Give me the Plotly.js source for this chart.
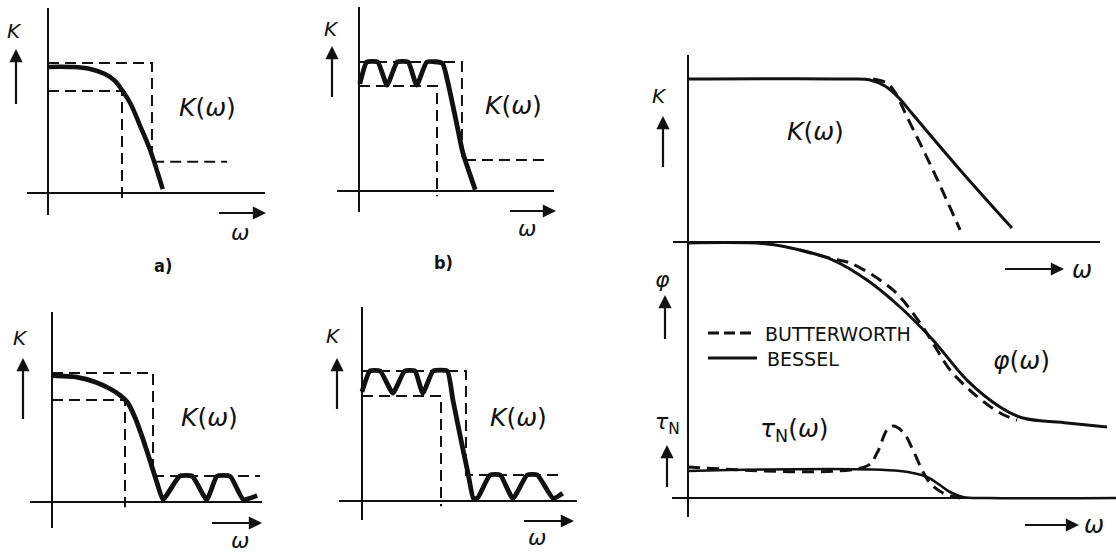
<!DOCTYPE html>
<html><head><meta charset="utf-8">
<script src="https://cdn.plot.ly/plotly-3.0.1.min.js"></script>
<style>html,body{margin:0;padding:0;background:#fff}#chart{width:1116px;height:552px}</style>
</head><body><div id="chart"></div>
<script>
// ---------- data (normalised units: omega_c = 1, upper tolerance K = 1) ----------
// a) smooth (Butterworth-like) low-pass
const aW = [0, 0.30, 0.57, 0.77, 0.905, 1.0, 1.11, 1.24, 1.38, 1.47, 1.55];
const aK = [0.97, 0.97, 0.954, 0.915, 0.862, 0.792, 0.692, 0.523, 0.331, 0.177, 0.03];
const aUpperW = [0, 1.405, 1.405, 2.42];
const aUpperK = [1, 1, 0.24, 0.24];
const aLowerW = [0, 1, 1];
const aLowerK = [0.785, 0.785, -0.04];

// b) passband ripple
const bW = [0.01, 0.10, 0.24, 0.36, 0.49, 0.63, 0.74, 0.87, 1.07, 1.14, 1.26, 1.33, 1.49];
const bK = [0.83, 1.0, 1.0, 0.82, 1.0, 1.0, 0.82, 1.0, 0.99, 0.84, 0.50, 0.30, 0.01];
const bUpperW = [0, 1.32, 1.32, 2.41];
const bUpperK = [1, 1, 0.24, 0.24];
const bLowerW = [0, 1, 1];
const bLowerK = [0.814, 0.814, -0.04];

// c) stopband ripple
const cW = [0, 0.32, 0.59, 0.80, 0.93, 1.03, 1.14, 1.25, 1.34, 1.44, 1.52, 1.75, 1.92, 2.12, 2.26, 2.44, 2.62, 2.81];
const cK = [0.98, 0.97, 0.93, 0.876, 0.829, 0.775, 0.651, 0.481, 0.326, 0.147, 0.02, 0.20, 0.20, 0.02, 0.20, 0.20, 0.02, 0.05];
const cUpperW = [0, 1.384, 1.384, 2.85];
const cUpperK = [1, 1, 0.202, 0.202];
const cLowerW = [0, 1, 1];
const cLowerK = [0.791, 0.791, -0.04];

// d) passband and stopband ripple
const dW = [0, 0.10, 0.23, 0.39, 0.54, 0.67, 0.77, 0.90, 1.08, 1.15, 1.27, 1.34, 1.41, 1.46, 1.62, 1.75, 1.91, 2.09, 2.22, 2.42, 2.54];
const dK = [0.84, 1.0, 1.0, 0.83, 1.0, 1.0, 0.83, 1.0, 1.0, 0.78, 0.42, 0.22, 0.02, 0.02, 0.2, 0.2, 0.02, 0.2, 0.2, 0.02, 0.06];
const dUpperW = [0, 1.316, 1.316, 2.544];
const dUpperK = [1, 1, 0.2, 0.2];
const dLowerW = [0, 1, 1];
const dLowerK = [0.808, 0.808, -0.04];

// right: Butterworth vs Bessel
const besselKW = [0, 0.853, 0.958, 1.037, 1.116, 1.168, 1.432, 1.705];
const besselK  = [1.0, 1.0, 0.994, 0.957, 0.877, 0.804, 0.442, 0.086];
const butterKW = [0.974, 1.047, 1.089, 1.153, 1.289, 1.432];
const butterK  = [1.0, 0.975, 0.920, 0.767, 0.442, 0.074];

const besselPhiW = [0, 0.416, 0.589, 0.763, 0.942, 1.116, 1.289, 1.468, 1.642, 1.763, 1.995, 2.205];
const besselPhi  = [0, -0.005, -0.038, -0.092, -0.2, -0.346, -0.524, -0.741, -0.886, -0.946, -0.973, -0.995];
const butterPhiW = [0.589, 0.763, 0.853, 1.079, 1.221, 1.289, 1.379, 1.5, 1.642, 1.732];
const butterPhi  = [-0.038, -0.086, -0.108, -0.254, -0.432, -0.541, -0.686, -0.811, -0.919, -0.957];

const besselTauW = [0, 1.116, 1.258, 1.326, 1.379, 1.447, 1.589, 2.253];
const besselTau  = [1.0, 1.0, 0.778, 0.481, 0.222, 0.037, 0, 0];
const butterTauW = [0, 0.942, 0.995, 1.047, 1.079, 1.132, 1.184, 1.232, 1.274, 1.342, 1.432];
const butterTau  = [1.148, 1.185, 1.667, 2.519, 2.667, 2.444, 1.778, 1.037, 0.556, 0.185, 0];

// ---------- layout helpers ----------
const W = 1116, H = 552;
const INK = '#111';
const layout = {
  width: W, height: H, margin: {l: 0, r: 0, t: 0, b: 0},
  paper_bgcolor: '#fff', plot_bgcolor: 'rgba(0,0,0,0)', showlegend: false,
  annotations: [], shapes: []
};
function axisBase() {
  return {showgrid: false, showticklabels: false, ticks: '', showline: false,
          zeroline: true, zerolinecolor: INK, zerolinewidth: 2, fixedrange: true};
}
// p: origin px (ox, oy), px per unit (sx, sy), box px (l, r, t, b)
function panel(n, p) {
  const sfx = n === 1 ? '' : String(n);
  const xa = axisBase(), ya = axisBase();
  xa.domain = [p.l / W, p.r / W];
  xa.range = [(p.l - p.ox) / p.sx, (p.r - p.ox) / p.sx];
  ya.domain = [1 - p.b / H, 1 - p.t / H];
  ya.range = [(p.oy - p.b) / p.sy, (p.oy - p.t) / p.sy];
  xa.anchor = 'y' + sfx; ya.anchor = 'x' + sfx;
  if (p.xzw) xa.zerolinewidth = p.xzw;
  if (p.yzw) ya.zerolinewidth = p.yzw;
  if (p.noYZero) ya.zeroline = false;
  layout['xaxis' + sfx] = xa;
  layout['yaxis' + sfx] = ya;
  return {x: 'x' + sfx, y: 'y' + sfx};
}
const pa = panel(1, {ox: 48, oy: 193, sx: 74, sy: 130, l: 27, r: 265, t: 8, b: 215});
const pb = panel(2, {ox: 359, oy: 191, sx: 78, sy: 129, l: 337, r: 554, t: 7, b: 212});
const pc = panel(3, {ox: 52, oy: 502, sx: 73, sy: 129, l: 30, r: 262, t: 312, b: 528});
const pd = panel(4, {ox: 362, oy: 501, sx: 79, sy: 130, l: 339, r: 577, t: 307, b: 520});
const pK = panel(5, {ox: 688, oy: 242, sx: 190, sy: 163, l: 673, r: 1100, t: 55, b: 245, xzw: 2, yzw: 1.6});
const pP = panel(6, {ox: 688, oy: 243, sx: 190, sy: 185, l: 673, r: 1116, t: 241, b: 440, xzw: 2, noYZero: true});
const pT = panel(7, {ox: 688, oy: 498, sx: 190, sy: 27, l: 672, r: 1116, t: 420, b: 517, xzw: 2, yzw: 1.6});

const traces = [];
function line(ax, xs, ys, width, dash, smooth) {
  traces.push({type: 'scatter', mode: 'lines', x: xs, y: ys, xaxis: ax.x, yaxis: ax.y,
    hoverinfo: 'skip',
    line: {color: INK, width: width, dash: dash || 'solid',
           shape: smooth ? 'spline' : 'linear', smoothing: smooth || 1}});
}
const DASH_L = '11px,6px';
const DASH_R = '12px,7px';
// left panels
line(pa, aUpperW, aUpperK, 2, DASH_L); line(pa, aLowerW, aLowerK, 2, DASH_L);
line(pa, aW, aK, 4.5, 'solid', 1.2);
line(pb, bUpperW, bUpperK, 2, DASH_L); line(pb, bLowerW, bLowerK, 2, DASH_L);
line(pb, bW, bK, 4.8, 'solid', 0.45);
line(pc, cUpperW, cUpperK, 2, DASH_L); line(pc, cLowerW, cLowerK, 2, DASH_L);
line(pc, cW, cK, 4.8, 'solid', 0.5);
line(pd, dUpperW, dUpperK, 2, DASH_L); line(pd, dLowerW, dLowerK, 2, DASH_L);
line(pd, dW, dK, 4.8, 'solid', 0.45);
// right panels
line(pK, besselKW, besselK, 3, 'solid', 1);
line(pK, butterKW, butterK, 3, DASH_R, 1);
line(pP, besselPhiW, besselPhi, 3, 'solid', 1);
line(pP, butterPhiW, butterPhi, 3, DASH_R, 1);
line(pT, besselTauW, besselTau, 2.6, 'solid', 1);
line(pT, butterTauW, butterTau, 3, DASH_R, 1);

// ---------- text & arrows (paper coordinates from pixel positions) ----------
const FONT = 'DejaVu Sans';
function txt(px, py, s, size, opts) {
  opts = opts || {};
  layout.annotations.push({xref: 'paper', yref: 'paper', x: px / W, y: 1 - py / H,
    text: s, showarrow: false, xanchor: opts.xa || 'center', yanchor: 'middle',
    font: {family: opts.family || FONT, size: size, color: INK}});
}
function arrow(hx, hy, tx, ty) {
  layout.annotations.push({xref: 'paper', yref: 'paper', x: hx / W, y: 1 - hy / H,
    ax: tx - hx, ay: ty - hy, text: ' ', showarrow: true, arrowhead: 2,
    arrowsize: 1.2, arrowwidth: 2.2, arrowcolor: INK, standoff: 0, startstandoff: 0,
    font: {size: 2}});
}
const Kw = '<i>K</i>(<i>ω</i>)';
const LAB = 'DejaVu Sans Condensed, DejaVu Sans';
// a
txt(14, 31, '<i>K</i>', 20); arrow(16, 49, 16, 107); txt(207, 108, Kw, 25);
arrow(266, 213, 217, 213); txt(240, 232, '<i>ω</i>', 22);
txt(163, 265, '<b>a)</b>', 18, {family: LAB});
// b
txt(331, 29, '<i>K</i>', 20); arrow(332, 46, 332, 100); txt(513, 106, Kw, 25);
arrow(556, 211, 508, 211); txt(527, 228, '<i>ω</i>', 22);
txt(443, 262, '<b>b)</b>', 18, {family: LAB});
// c
txt(20, 338, '<i>K</i>', 20); arrow(23, 358, 23, 422); txt(209, 417, Kw, 25);
arrow(262, 523, 210, 523); txt(240, 540, '<i>ω</i>', 22);
// d
txt(333, 336, '<i>K</i>', 20); arrow(337, 358, 337, 412); txt(518, 417, Kw, 25);
arrow(574, 521, 522, 521); txt(537, 537, '<i>ω</i>', 22);
// right
txt(659, 96, '<i>K</i>', 20); arrow(663, 116, 663, 170); txt(815, 131, Kw, 25);
txt(662, 279, '<i>φ</i>', 22); arrow(665, 295, 665, 342); txt(1021, 360, '<i>φ</i>(<i>ω</i>)', 25);
arrow(1064, 269, 1003, 269); txt(1082, 270, '<i>ω</i>', 24);
txt(667, 423, '<i>τ</i><sub>N</sub>', 22); arrow(667, 445, 667, 490);
txt(794, 430, '<i>τ</i><sub>N</sub>(<i>ω</i>)', 25);
arrow(1079, 525, 1023, 525); txt(1094, 525, '<i>ω</i>', 24);
// legend
layout.shapes.push({type: 'line', xref: 'paper', yref: 'paper', x0: 708 / W, x1: 755 / W,
  y0: 1 - 333 / H, y1: 1 - 333 / H, line: {color: INK, width: 3, dash: '11px,5px'}});
layout.shapes.push({type: 'line', xref: 'paper', yref: 'paper', x0: 708 / W, x1: 757 / W,
  y0: 1 - 358 / H, y1: 1 - 358 / H, line: {color: INK, width: 3}});
txt(763, 334, 'BUTTERWORTH', 19, {xa: 'left'});
txt(765, 359, 'BESSEL', 19, {xa: 'left'});

Plotly.newPlot('chart', traces, layout, {staticPlot: true, displayModeBar: false});
</script>
</body></html>
